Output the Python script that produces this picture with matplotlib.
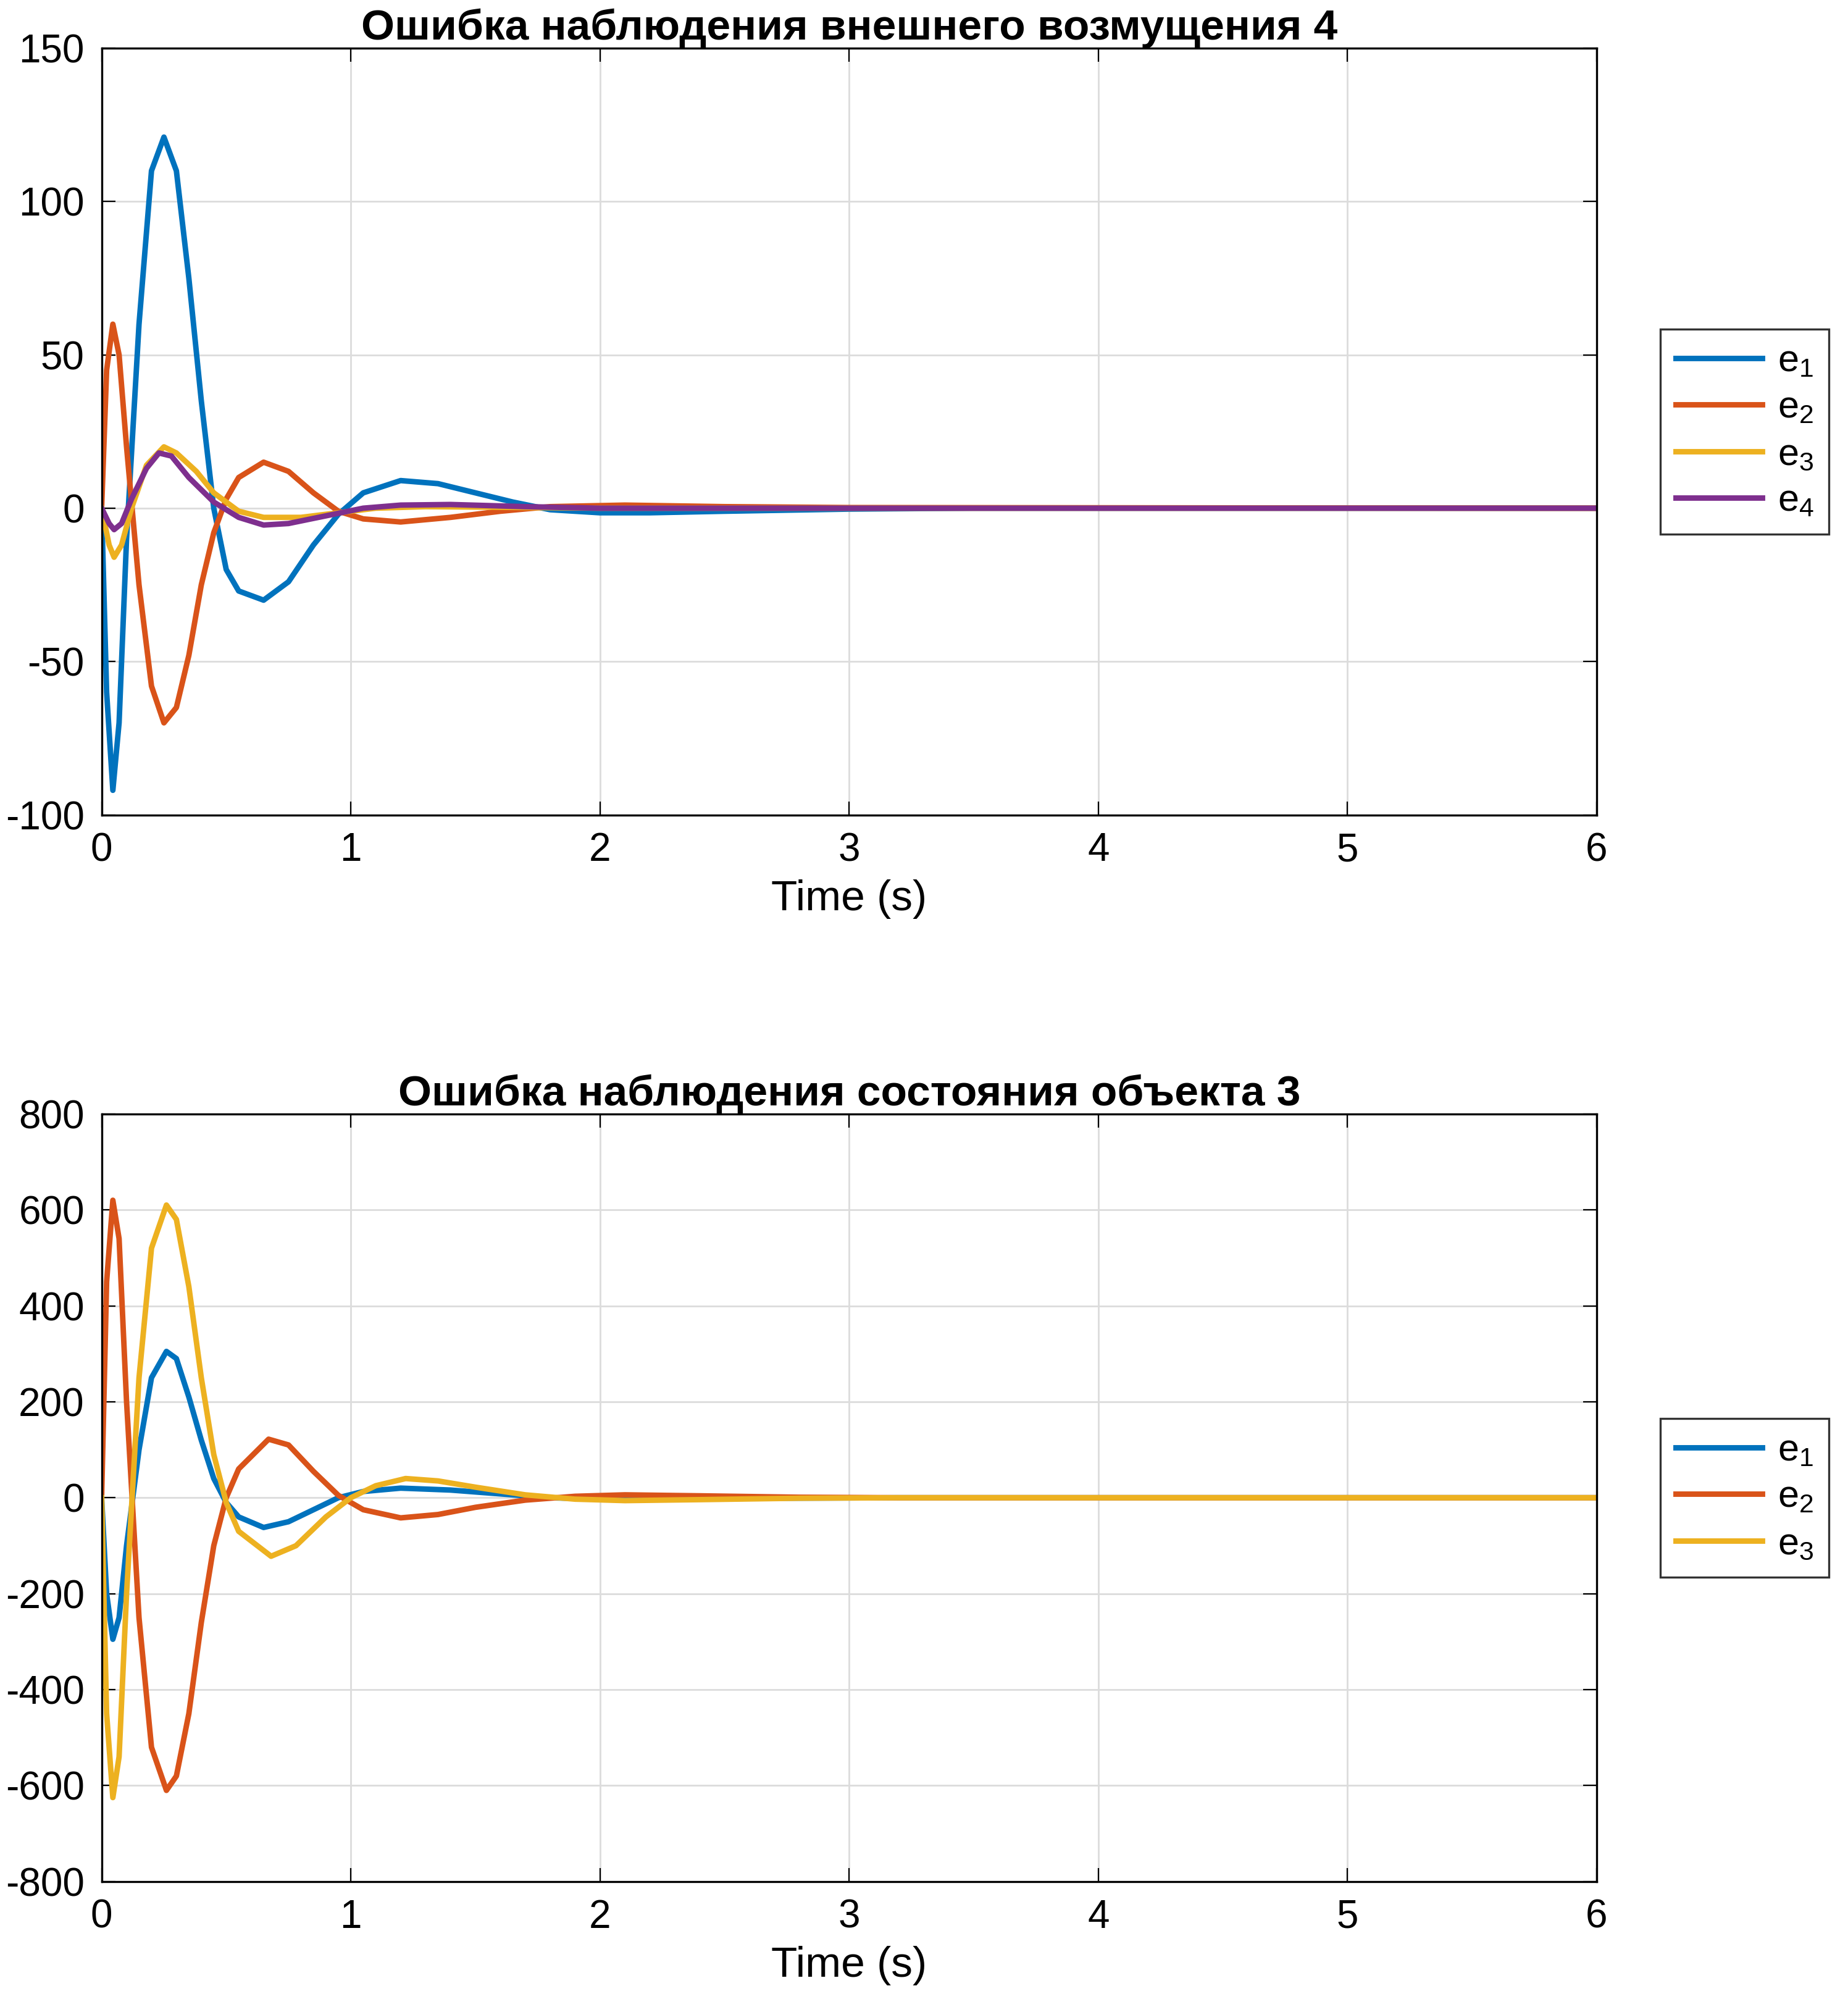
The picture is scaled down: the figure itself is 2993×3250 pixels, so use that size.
import matplotlib
matplotlib.use("Agg")
import matplotlib.pyplot as plt

plt.rcParams['font.family'] = ['Liberation Sans', 'DejaVu Sans']
plt.rcParams['axes.unicode_minus'] = False
plt.rcParams['mathtext.fontset'] = 'custom'
plt.rcParams['mathtext.rm'] = 'Liberation Sans'

colors = ['#0072BD', '#D95319', '#EDB120', '#7E2F8E']

# top plot: disturbance observation error
t1_e1 = [0, 0.02, 0.045, 0.07, 0.1, 0.15, 0.2, 0.25, 0.3, 0.35, 0.4, 0.45, 0.5, 0.55, 0.65, 0.75, 0.85, 0.95, 1.05, 1.2, 1.35, 1.5, 1.65, 1.8, 2.0, 2.2, 2.5, 3.0, 3.5, 6.0]
v1_e1 = [0, -60, -92, -70, -10, 60, 110, 121, 110, 75, 35, 0, -20, -27, -30, -24, -12, -2, 5, 9, 8, 5, 2, -0.5, -1.5, -1.5, -1, -0.3, 0, 0]
t1_e2 = [0, 0.02, 0.045, 0.07, 0.1, 0.15, 0.2, 0.25, 0.3, 0.35, 0.4, 0.45, 0.5, 0.55, 0.65, 0.75, 0.85, 0.95, 1.05, 1.2, 1.4, 1.6, 1.8, 2.1, 2.5, 3.0, 6.0]
v1_e2 = [0, 45, 60, 50, 20, -25, -58, -70, -65, -48, -25, -8, 3, 10, 15, 12, 5, -1, -3.5, -4.5, -3, -1, 0.5, 1, 0.5, 0.2, 0]
t1_e3 = [0, 0.03, 0.05, 0.08, 0.12, 0.18, 0.25, 0.3, 0.38, 0.45, 0.55, 0.65, 0.8, 0.95, 1.1, 1.3, 1.6, 2.0, 6.0]
v1_e3 = [0, -12, -16, -12, 0, 14, 20, 18, 12, 5, -1, -3, -3, -1.5, 0, 0.5, 0.3, 0, 0]
t1_e4 = [0, 0.03, 0.05, 0.08, 0.12, 0.18, 0.23, 0.28, 0.35, 0.45, 0.55, 0.65, 0.75, 0.9, 1.05, 1.2, 1.4, 1.7, 2.0, 6.0]
v1_e4 = [0, -5, -7, -5, 3, 13, 18, 17, 10, 2, -3, -5.5, -5, -2.5, 0, 1, 1.2, 0.5, 0, 0]

# bottom plot: state observation error
t2_e1 = [0, 0.02, 0.045, 0.07, 0.1, 0.15, 0.2, 0.26, 0.3, 0.35, 0.4, 0.45, 0.5, 0.55, 0.65, 0.75, 0.85, 0.95, 1.05, 1.2, 1.4, 1.6, 1.8, 2.0, 2.3, 2.7, 3.2, 6.0]
v2_e1 = [0, -200, -295, -250, -100, 100, 250, 305, 290, 210, 120, 40, -10, -40, -62, -50, -25, 0, 13, 20, 16, 8, 0, -3, -3, -1, 0, 0]
t2_e2 = [0, 0.02, 0.045, 0.07, 0.1, 0.15, 0.2, 0.26, 0.3, 0.35, 0.4, 0.45, 0.5, 0.55, 0.67, 0.75, 0.85, 0.95, 1.05, 1.2, 1.35, 1.5, 1.7, 1.9, 2.1, 2.4, 2.8, 3.2, 6.0]
v2_e2 = [0, 450, 620, 540, 200, -250, -520, -610, -580, -450, -260, -100, 0, 60, 122, 110, 55, 5, -25, -42, -35, -20, -5, 3, 6, 4, 1, 0, 0]
t2_e3 = [0, 0.02, 0.045, 0.07, 0.1, 0.15, 0.2, 0.26, 0.3, 0.35, 0.4, 0.45, 0.5, 0.55, 0.68, 0.78, 0.9, 1.0, 1.1, 1.22, 1.35, 1.5, 1.7, 1.9, 2.1, 2.4, 2.8, 3.2, 6.0]
v2_e3 = [0, -450, -625, -540, -200, 250, 520, 610, 580, 440, 250, 90, -10, -70, -122, -100, -40, 0, 25, 40, 35, 22, 6, -3, -6, -4, -1, 0, 0]

labels = ['$\\mathregular{e_1}$', '$\\mathregular{e_2}$', '$\\mathregular{e_3}$', '$\\mathregular{e_4}$']

fig = plt.figure(figsize=(14.965, 16.25), dpi=200)
ax1 = fig.add_axes([0.055, 0.594, 0.809, 0.382])
ax2 = fig.add_axes([0.055, 0.0625, 0.809, 0.3825])

top = [(t1_e1, v1_e1), (t1_e2, v1_e2), (t1_e3, v1_e3), (t1_e4, v1_e4)]
bot = [(t2_e1, v2_e1), (t2_e2, v2_e2), (t2_e3, v2_e3)]

for ax, series, title, ylim, yt in [
        (ax1, top, 'Ошибка наблюдения внешнего возмущения 4', (-100, 150), range(-100, 151, 50)),
        (ax2, bot, 'Ошибка наблюдения состояния объекта 3', (-800, 800), range(-800, 801, 200))]:
    for i, (t, v) in enumerate(series):
        ax.plot(t, v, color=colors[i], lw=3.2, label=labels[i])
    ax.set_xlim(0, 6)
    ax.set_ylim(*ylim)
    ax.set_yticks(list(yt))
    ax.set_xticks(range(0, 7))
    ax.grid(True, color='#dcdcdc', lw=1)
    ax.tick_params(labelsize=23, direction='in', length=8, top=True, right=True, pad=10)
    ax.set_xlabel('Time (s)', fontsize=25, labelpad=6)
    ax.set_title(title, fontsize=25, fontweight='bold', pad=5)
    for s in ax.spines.values():
        s.set_linewidth(1.2)
    leg = ax.legend(loc='center left', bbox_to_anchor=(1.03, 0.5), fontsize=22,
                    fancybox=False, edgecolor='black', handlelength=2.3,
                    handletextpad=0.4, borderpad=0.4, labelspacing=0.3)
    leg.get_frame().set_linewidth(1.2)

fig.savefig('out.png', dpi=200)
